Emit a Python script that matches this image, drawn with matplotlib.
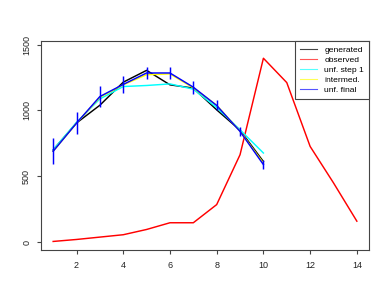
import numpy as np
import matplotlib
matplotlib.use("Agg")
import matplotlib.pyplot as plt
from matplotlib.lines import Line2D

plt.rcParams['font.family'] = ['Liberation Sans', 'DejaVu Sans']

# bins
x_unf = np.arange(1, 11)
x_obs = np.arange(1, 15)

# series
generated = [700, 905, 1040, 1215, 1305, 1195, 1170, 1005, 850, 612]
observed = [5, 20, 38, 56, 96, 147, 147, 285, 664, 1397, 1212, 727, 450, 159]
unf_step1 = [702, 910, 1088, 1182, 1190, 1202, 1162, 1022, 853, 677]
intermed = [690, 904, 1100, 1195, 1272, 1278, 1172, 1040, 842, 600]
unf_final = [690, 904, 1106, 1198, 1285, 1285, 1177, 1038, 841, 589]
unf_err = [100, 82, 82, 63, 44, 48, 48, 38, 32, 35]

x_ticks = [2, 4, 6, 8, 10, 12, 14]
y_ticks = [0, 500, 1000, 1500]

fig = plt.figure(figsize=(3.9, 3.02), dpi=100)
ax = fig.add_axes([41 / 390, 1 - 250 / 302, 328 / 390, 209 / 302])

lw = 1.05
ax.plot(x_unf, generated, color='black', lw=lw)
ax.plot(x_obs, observed, color='red', lw=lw)
ax.plot(x_unf, unf_step1, color='cyan', lw=lw)
ax.plot(x_unf, intermed, color='yellow', lw=lw)
ax.plot(x_unf, unf_final, color='blue', lw=lw)
ax.vlines(x_unf, np.array(unf_final) - np.array(unf_err),
          np.array(unf_final) + np.array(unf_err), color='blue', lw=lw)

ax.set_xlim(0.48, 14.52)
ax.set_ylim(-60, 1528)
ax.set_xticks(x_ticks)
ax.set_yticks(y_ticks)
ax.tick_params(axis='both', length=3.1, width=0.8, color='#444444',
               labelsize=6.5, labelcolor='#222222')
ax.tick_params(axis='x', pad=5)
ax.tick_params(axis='y', pad=4)
for lab in ax.get_yticklabels():
    lab.set_rotation(90)
    lab.set_va('center')
for sp in ax.spines.values():
    sp.set_color('#444444')
    sp.set_linewidth(0.8)

labels = ['generated', 'observed', 'unf. step 1', 'intermed.', 'unf. final']
colors = ['#444444', '#ff5555', '#55ffff', '#ffff55', '#5555ff']
handles = [Line2D([], [], color=c, lw=0.8) for c in colors]
leg = ax.legend(handles, labels, loc='upper right', bbox_to_anchor=(1, 1),
                borderaxespad=0, fancybox=False, framealpha=1,
                edgecolor='#444444', fontsize=6.1, handlelength=2.1,
                handletextpad=0.8, labelspacing=0.25, borderpad=0.6)
leg.get_frame().set_linewidth(0.8)

fig.savefig('out.png', dpi=100)
